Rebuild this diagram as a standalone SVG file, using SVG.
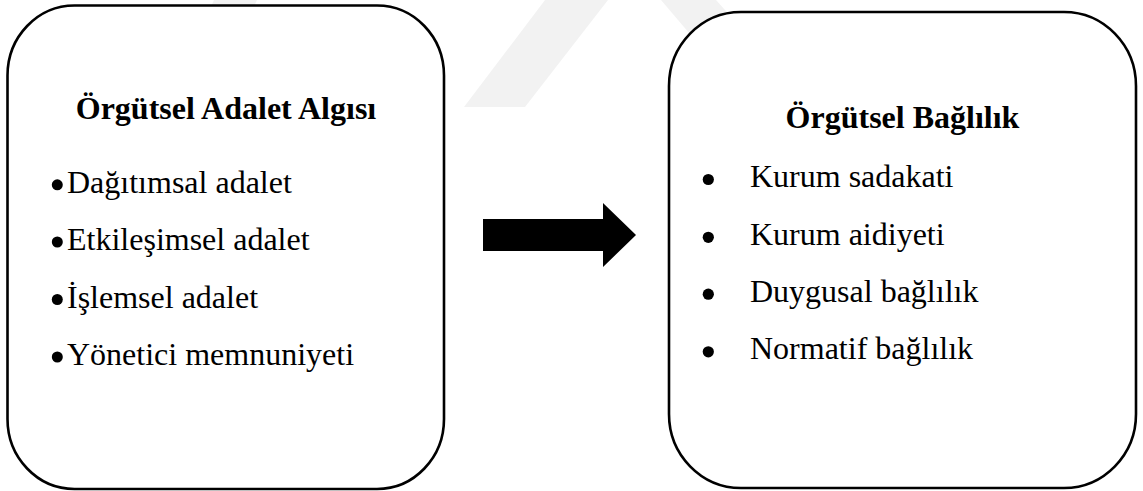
<svg xmlns="http://www.w3.org/2000/svg" width="1143" height="491" viewBox="0 0 1143 491">
  <defs>
    <style>
      .box { fill: #ffffff; stroke: #000000; stroke-width: 2.6; }
      .wm { fill: #f2f2f2; }
    </style>
  </defs>
  <rect width="1143" height="491" fill="#ffffff"/>
  <g id="watermark">
    <polygon class="wm" points="214,0 257,0 225,70 182,70"/>
    <polygon class="wm" points="464,107 525,107 608,0 545,0"/>
    <polygon class="wm" points="661,0 716,0 770,60 712,60"/>
  </g>
  <g id="node-adalet" font-family="Liberation Serif" font-size="32" fill="#000000">
    <rect class="box" x="7.5" y="5.5" width="436.5" height="483.5" rx="67" ry="70"/>
    <text x="226" y="119" text-anchor="middle" font-weight="bold">Örgütsel Adalet Algısı</text>
    <circle cx="57.3" cy="184.8" r="5.5"/>
    <text x="67" y="193">Dağıtımsal adalet</text>
    <circle cx="57.3" cy="242" r="5.5"/>
    <text x="67" y="250">Etkileşimsel adalet</text>
    <circle cx="57.3" cy="299.5" r="5.5"/>
    <text x="67" y="307.5">İşlemsel adalet</text>
    <circle cx="57.3" cy="357" r="5.5"/>
    <text x="67" y="365">Yönetici memnuniyeti</text>
  </g>
  <g id="node-baglilik" font-family="Liberation Serif" font-size="32" fill="#000000">
    <rect class="box" x="669" y="12" width="467" height="476" rx="72" ry="74"/>
    <text x="902.5" y="127.7" text-anchor="middle" font-weight="bold">Örgütsel Bağlılık</text>
    <circle cx="708.3" cy="179.5" r="5.6"/>
    <text x="750" y="187.3">Kurum sadakati</text>
    <circle cx="708.3" cy="237.3" r="5.6"/>
    <text x="750" y="245">Kurum aidiyeti</text>
    <circle cx="708.3" cy="294.2" r="5.6"/>
    <text x="750" y="301.8">Duygusal bağlılık</text>
    <circle cx="708.3" cy="351.8" r="5.6"/>
    <text x="750" y="359.4">Normatif bağlılık</text>
  </g>
  <g id="connectors">
    <polygon points="483,219 603,219 603,203 636,235 603,267 603,251 483,251" fill="#000000"/>
  </g>
</svg>
